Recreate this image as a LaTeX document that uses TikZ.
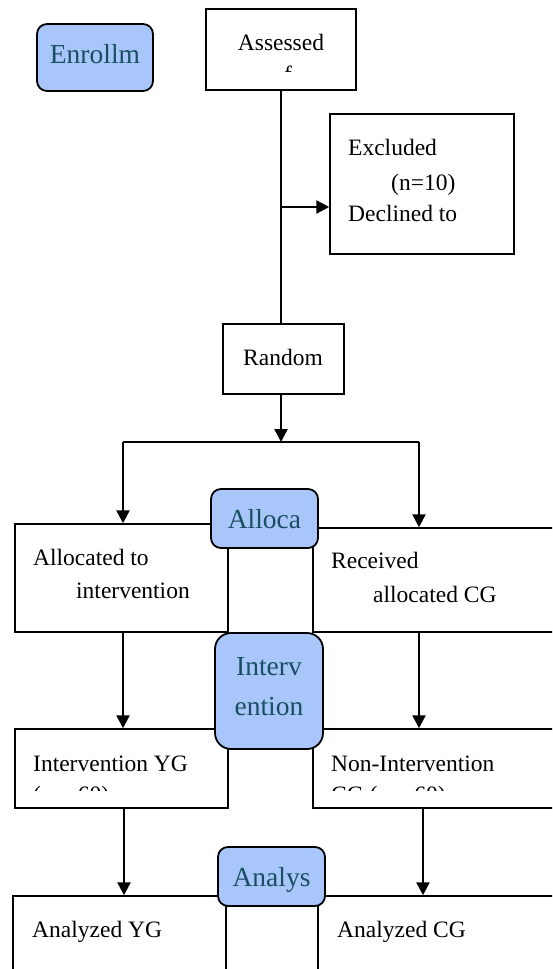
\documentclass[tikz,border=0pt]{standalone}
\usepackage{fontspec}
\setmainfont{Liberation Serif}
\usetikzlibrary{arrows.meta}
\definecolor{boxblue}{RGB}{168,198,250}
\definecolor{labteal}{RGB}{26,78,98}
\tikzset{
  plainbox/.style={draw=black, line width=1.5pt, fill=white, inner sep=0pt},
  stagebox/.style={draw=black, line width=1.8pt, fill=boxblue, inner sep=0pt, rounded corners=10pt},
  txt/.style={inner sep=0pt, font=\fontsize{23.5}{28}\selectfont},
  stagetxt/.style={inner sep=0pt, text=labteal, font=\fontsize{27.5}{32}\selectfont},
  conn/.style={line width=2.4pt},
  arr/.style={conn, -{Triangle[width=13pt,length=13pt]}}
}
\begin{document}
\begin{tikzpicture}[x=1pt,y=-1pt]
\useasboundingbox (0,0) rectangle (552,969);
\clip (0,0) rectangle (552,969);
\fill[white] (0,0) rectangle (552,969);

% plain boxes
\node[plainbox, minimum width=150pt, minimum height=81pt] (assess) at (281,49.5) {};
\node[plainbox, minimum width=184pt, minimum height=140pt] (excl) at (422,184) {};
\node[plainbox, minimum width=121pt, minimum height=70pt] (random) at (283.5,359) {};
\node[plainbox, minimum width=213pt, minimum height=108pt] (alloc) at (121.5,578) {};
\node[plainbox, minimum width=287pt, minimum height=104pt] (recv) at (456.5,580) {};
\node[plainbox, minimum width=213pt, minimum height=79pt] (ivyg) at (121.5,768.5) {};
\node[plainbox, minimum width=287pt, minimum height=79pt] (noniv) at (456.5,768.5) {};
\node[plainbox, minimum width=213pt, minimum height=104pt] (anyg) at (119.5,948) {};
\node[plainbox, minimum width=282pt, minimum height=104pt] (ancg) at (459,948) {};

% connectors
\coordinate (j1) at (281,207);
\coordinate (split) at (281,442);
\coordinate (bl) at (123,442);
\coordinate (br) at (419,442);
\coordinate (cl) at (124,0);
\coordinate (cr) at (423,0);
\draw[conn] (assess.south) -- (assess.south |- random.north);
\draw[arr] (j1) -- (j1 -| excl.west);
\draw[arr] (random.south -| split) -- (split);
\draw[conn] (bl) -- (br);
\draw[arr] (bl) -- (bl |- alloc.north);
\draw[arr] (br) -- (br |- recv.north);
\draw[arr] (alloc.south -| bl) -- (bl |- ivyg.north);
\draw[arr] (recv.south -| br) -- (br |- noniv.north);
\draw[arr] (ivyg.south -| cl) -- (anyg.north -| cl);
\draw[arr] (noniv.south -| cr) -- (ancg.north -| cr);

% stage boxes
\node[stagebox, minimum width=116pt, minimum height=67pt] (enroll) at (95,57.5) {};
\node[stagebox, minimum width=107pt, minimum height=59pt] (alloca) at (264.5,518.5) {};
\node[stagebox, minimum width=108pt, minimum height=116pt, rounded corners=16pt] (interv) at (269,691) {};
\node[stagebox, minimum width=107pt, minimum height=59pt] (analys) at (271.5,876.5) {};

% stage texts
\node[stagetxt, anchor=base] (tEnroll) at (95,63) {Enrollm};
\node[stagetxt, anchor=base] (tAlloca) at (264.5,528) {Alloca};
\node[stagetxt, anchor=base] (tInterv1) at (269,675) {Interv};
\node[stagetxt, anchor=base] (tInterv2) at (269,715) {ention};
\node[stagetxt, anchor=base] (tAnalys) at (271.5,886) {Analys};

% box texts
\node[txt, anchor=base] (tAssess) at (281,50) {Assessed};
\begin{scope}
  \clip (207,10) rectangle (355,71.5);
  \node[txt, anchor=base west] (tAssess2) at (284,82) {f};
\end{scope}
\node[txt, anchor=base west] (tExcl1) at (348,155) {Excluded};
\node[txt, anchor=base west] (tExcl2) at (391,190) {(n=10)};
\node[txt, anchor=base west] (tExcl3) at (348,221) {Declined to};
\node[txt, anchor=base] (tRandom) at (283,365) {Random};
\node[txt, anchor=base west] (tAlloc1) at (33,565) {Allocated to};
\node[txt, anchor=base west] (tAlloc2) at (76,598) {intervention};
\node[txt, anchor=base west] (tRecv1) at (331,568) {Received};
\node[txt, anchor=base west] (tRecv2) at (373,602) {allocated CG};
\node[txt, anchor=base west] (tIvyg) at (33,771) {Intervention YG};
\node[txt, anchor=base west] (tNoniv) at (331,771) {Non-Intervention};
\begin{scope}
  \clip (16,730) rectangle (600,790);
  \node[txt, anchor=base west] (tIvyg2) at (33,802) {(n = 60)};
  \node[txt, anchor=base west] (tNoniv2) at (331,802) {CG (n = 60)};
\end{scope}
\node[txt, anchor=base west] (tAnyg) at (32,937) {Analyzed YG};
\node[txt, anchor=base west] (tAncg) at (337,937) {Analyzed CG};
\end{tikzpicture}
\end{document}
